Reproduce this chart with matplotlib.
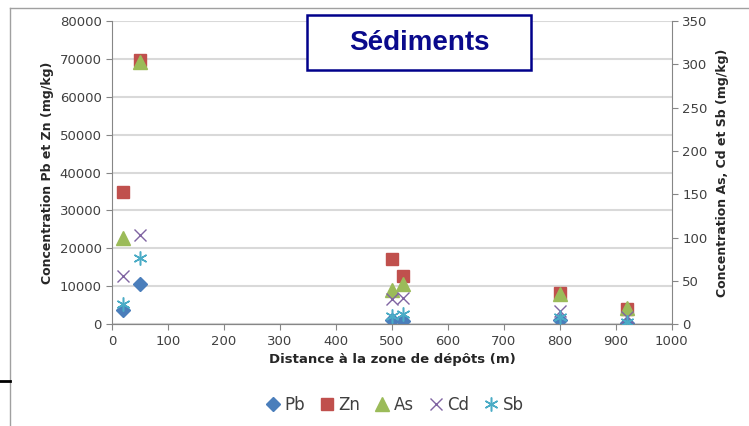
import matplotlib.pyplot as plt
from matplotlib.patches import Rectangle
from matplotlib.lines import Line2D

# distances (m)
distance = [20, 50, 500, 520, 800, 920]
# axe gauche (mg/kg)
pb = [3800, 10700, 1050, 900, 1000, 400]
zn = [34900, 69800, 17100, 12600, 8200, 4000]
# axe droit (mg/kg)
as_ = [99, 303, 40, 46, 35, 19]
cd = [56, 103, 29, 30, 15, 8]
sb = [23, 76, 10, 12, 8, 3]

col_pb = '#4A7EBB'
col_zn = '#C0504D'
col_as = '#9BBB59'
col_cd = '#8064A2'
col_sb = '#4BACC6'
grey = '#868686'

fig = plt.figure(figsize=(7.49, 4.26), dpi=100)
ax = fig.add_axes([0.1495, 0.239, 0.7475, 0.712])
ax2 = ax.twinx()

ax.plot(distance, pb, 'D', color=col_pb, markersize=7, label='Pb', zorder=3)
ax.plot(distance, zn, 's', color=col_zn, markersize=9, label='Zn', zorder=3)
ax2.plot(distance, as_, '^', color=col_as, markersize=10, label='As', zorder=3)
ax2.plot(distance, cd, 'x', color=col_cd, markersize=9, mew=1.0, label='Cd', zorder=3)
ax2.plot(distance, sb, marker=(6, 2, 0), ls='none', color=col_sb, markersize=10, mew=1.1, label='Sb', zorder=3)

ax.set_xlim(0, 1000)
ax.set_ylim(0, 80000)
ax2.set_ylim(0, 350)
ax.set_xticks(range(0, 1001, 100))
ax.set_yticks(range(0, 80001, 10000))
ax2.set_yticks(range(0, 351, 50))
ax.yaxis.grid(True, color='#d9d9d9', lw=1.5)
ax.set_axisbelow(True)

for a in (ax, ax2):
    a.spines['top'].set_visible(False)
    for s in ('left', 'right', 'bottom'):
        a.spines[s].set_color(grey)
    a.tick_params(colors=grey, labelcolor='#404040', labelsize=9.5, length=4)
ax2.spines['left'].set_visible(False)
ax.spines['right'].set_visible(False)

ax.set_xlabel('Distance à la zone de dépôts (m)', fontsize=9.5, fontweight='bold', color='#262626')
ax.set_ylabel('Concentration Pb et Zn (mg/kg)', fontsize=9, fontweight='bold', color='#262626', labelpad=4)
ax2.set_ylabel('Concentration As, Cd et Sb (mg/kg)', fontsize=9, fontweight='bold', color='#262626', labelpad=6)

# titre encadré
fig.patches.append(Rectangle((307 / 749, 1 - 70 / 426), 224 / 749, 55 / 426, transform=fig.transFigure,
                             fill=True, facecolor='white', edgecolor='#00008B', lw=1.8, zorder=5))
fig.text(419 / 749, 1 - 43 / 426, 'Sédiments', ha='center', va='center', fontsize=20, fontweight='bold',
         color='#0A0A8C', family=['Liberation Sans', 'DejaVu Sans'], zorder=6)

# cadre
fig.add_artist(Line2D([10 / 749, 10 / 749], [0, 1 - 8 / 426], transform=fig.transFigure, color='#a0a0a0', lw=1))
fig.add_artist(Line2D([10 / 749, 1], [1 - 8 / 426, 1 - 8 / 426], transform=fig.transFigure, color='#a0a0a0', lw=1))
fig.add_artist(Line2D([0, 10 / 749], [1 - 381 / 426, 1 - 381 / 426], transform=fig.transFigure, color='black', lw=2))

h1, l1 = ax.get_legend_handles_labels()
h2, l2 = ax2.get_legend_handles_labels()
fig.legend(h1 + h2, l1 + l2, loc='center', bbox_to_anchor=(395 / 749, 1 - 405 / 426), ncol=5,
           frameon=False, fontsize=12, handlelength=0.8, handletextpad=0.3, columnspacing=0.9,
           labelcolor='#404040')

fig.savefig('out.png', dpi=100)
